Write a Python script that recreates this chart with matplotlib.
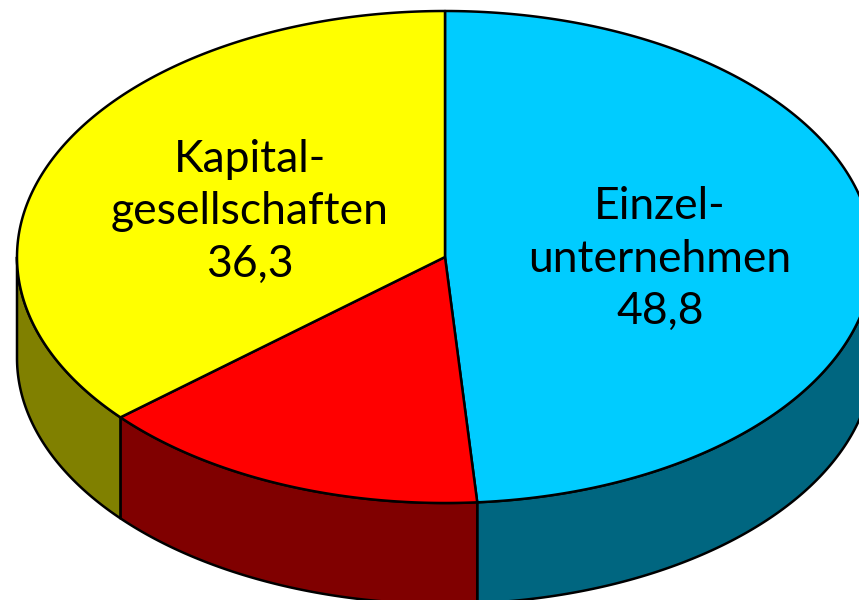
import numpy as np
import matplotlib
matplotlib.use("Agg")
import matplotlib.pyplot as plt
from matplotlib.patches import Polygon

labels = ["Einzel-\nunternehmen\n48,8", "", "Kapital-\ngesellschaften\n36,3"]
values = [48.8, 14.9, 36.3]
top_colors = ["#00CCFF", "#FF0000", "#FFFF00"]
side_colors = ["#006680", "#800000", "#808000"]

CX, CY, RX, RY, DEPTH = 445, 257, 428, 246, 101
label_pos = [(660, 259), None, (250, 212)]

fig = plt.figure(figsize=(8.59, 6.0), dpi=100)
ax = fig.add_axes([0, 0, 1, 1])
ax.set_xlim(0, 859)
ax.set_ylim(600, 0)
ax.axis("off")


def arc(t0, t1, dy=0):
    t = np.radians(np.linspace(t0, t1, 200))
    return np.column_stack([CX + RX * np.sin(t), CY - RY * np.cos(t) + dy])


edges = np.concatenate([[0], np.cumsum(values)]) * 3.6
LW = 1.8
for i in range(len(values)):
    a, b = max(edges[i], 90), min(edges[i + 1], 270)
    if b > a:
        pts = np.vstack([arc(a, b), arc(b, a, DEPTH)])
        ax.add_patch(Polygon(pts, closed=True, fc=side_colors[i], ec="black", lw=LW, joinstyle="round"))
for i in range(len(values)):
    pts = np.vstack([[[CX, CY]], arc(edges[i], edges[i + 1])])
    ax.add_patch(Polygon(pts, closed=True, fc=top_colors[i], ec="black", lw=LW, joinstyle="round"))
    if labels[i]:
        ax.text(*label_pos[i], labels[i], ha="center", va="center", fontsize=32,
                family="Lato", linespacing=1.36, color="black")

fig.savefig("out.png", dpi=100)
